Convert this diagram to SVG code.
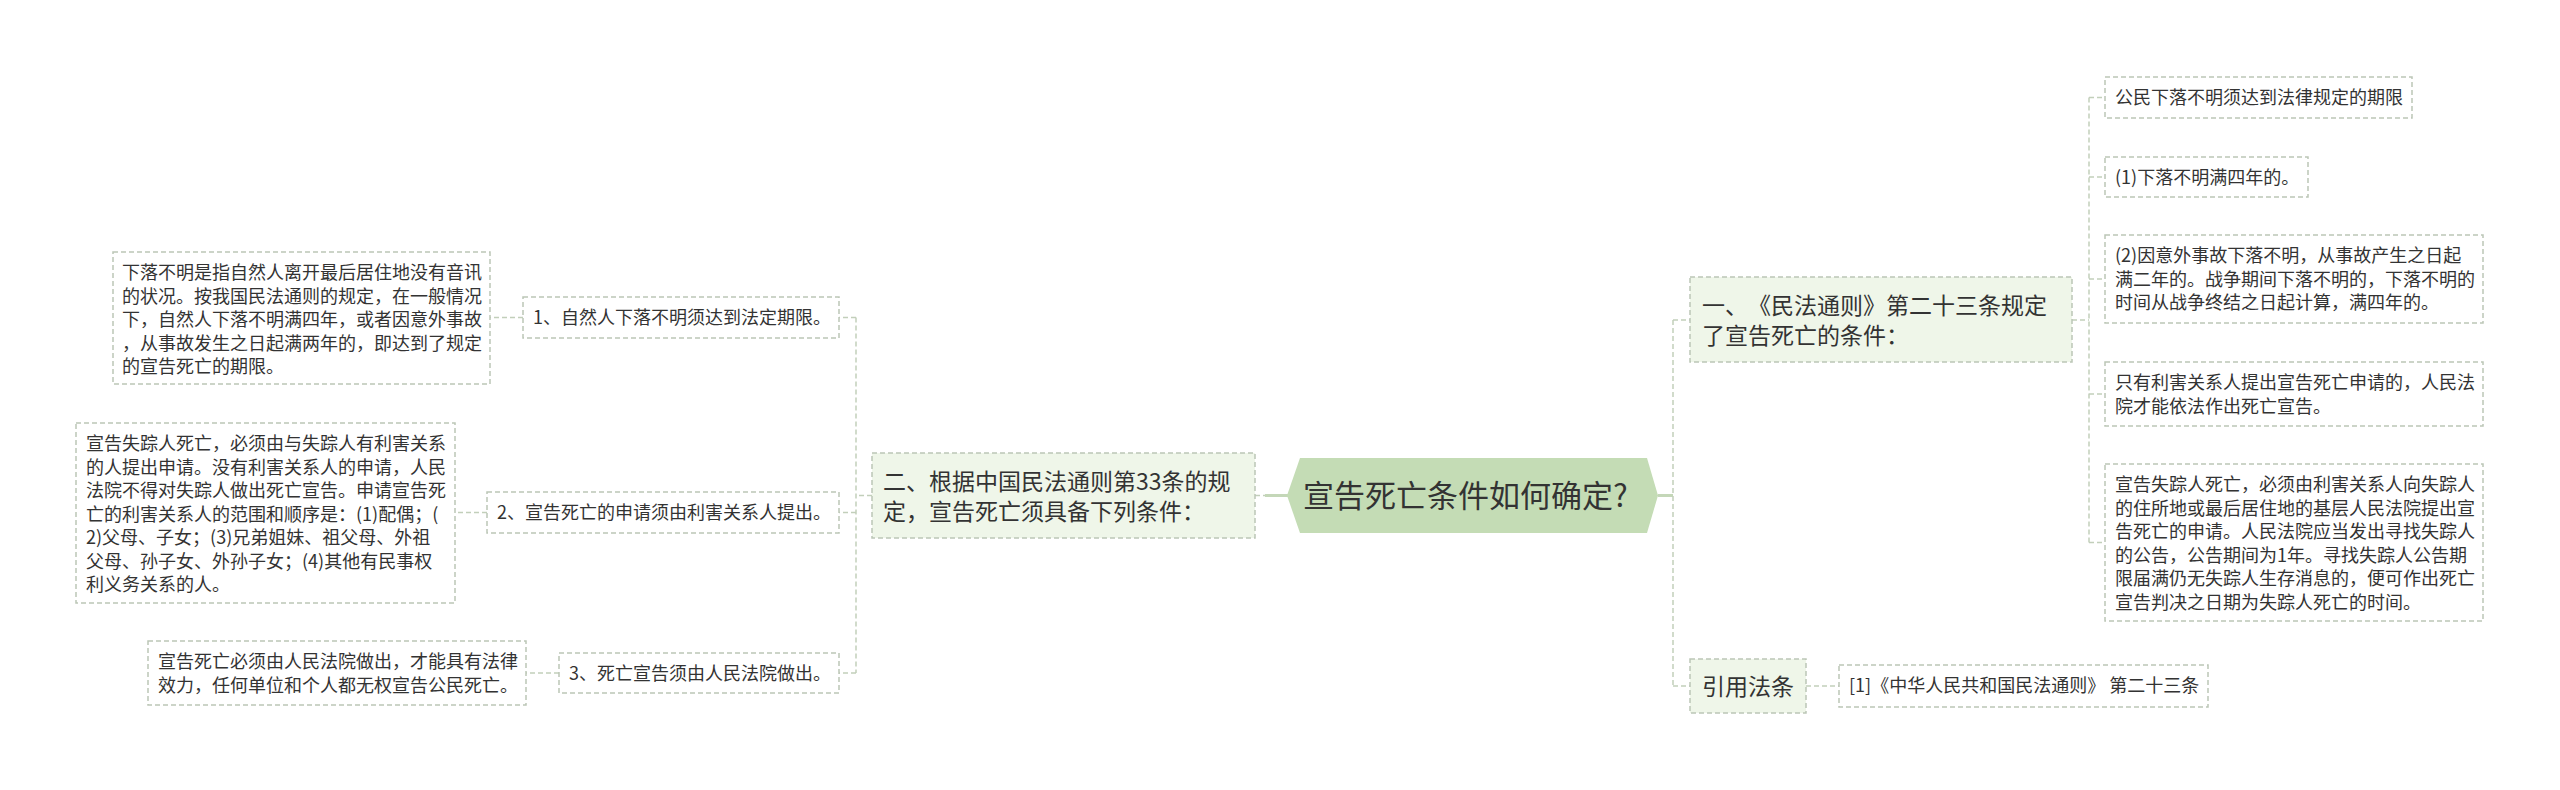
<svg xmlns="http://www.w3.org/2000/svg" width="2560" height="790" viewBox="0 0 2560 790">
<style>
text{font-family:"Noto Sans CJK SC","Noto Sans",sans-serif;fill:#333;text-spacing-trim:space-all}
.t18{font-size:18px}
.t22{font-size:23px}
.t30{font-size:31px}
.box{fill:#fff;stroke:#bcc6b6;stroke-width:1.5;stroke-dasharray:5 3}
.box2{fill:#eff6e9;stroke:#bcc6b6;stroke-width:1.5;stroke-dasharray:5 3}
.root{fill:#c4dcb5}
.conn{fill:none;stroke:#c2cfba;stroke-width:1.5;stroke-dasharray:5 3}
.solid{fill:none;stroke:#c4d7b8;stroke-width:3}
</style>
<rect width="2560" height="790" fill="#fff"/>
<g id="connectors">
<path class="solid" d="M1265 495.5H1288M1658 495.5H1673"/>
<path class="conn" d="M1255 495.5H1265"/>
<path class="conn" d="M1673 320V686M1673 320H1690M1673 686H1690"/>
<path class="conn" d="M2072 320H2089M2089 97.5V542.5M2089 97.5H2105M2089 177H2105M2089 279H2105M2089 394H2105M2089 542.5H2105"/>
<path class="conn" d="M1806 686H1839"/>
<path class="conn" d="M872 495.5H856M856 317.5V673M856 317.5H839M856 512.5H839M856 673H839"/>
<path class="conn" d="M523 317.5H490M487 512.5H455M559 673H526"/>
</g>
<g id="root">
<polygon class="root" points="1287,495.5 1300,458 1647,458 1658,495.5 1647,533 1300,533"/>
<text class="t30" x="1303" y="506.5">宣告死亡条件如何确定?</text>
</g>
<g id="n-left">
<rect class="box2" x="872" y="453" width="383" height="85"/>
<text class="t22" x="883" y="490">二、根据中国民法通则第33条的规</text>
<text class="t22" x="883" y="520">定，宣告死亡须具备下列条件：</text>
</g>
<g id="n-l1">
<rect class="box" x="523" y="297" width="316" height="41"/>
<text class="t18" x="533" y="324">1、自然人下落不明须达到法定期限。</text>
</g>
<g id="n-l2">
<rect class="box" x="487" y="492" width="352" height="41"/>
<text class="t18" x="497" y="519">2、宣告死亡的申请须由利害关系人提出。</text>
</g>
<g id="n-l3">
<rect class="box" x="559" y="653" width="280" height="40"/>
<text class="t18" x="569" y="680">3、死亡宣告须由人民法院做出。</text>
</g>
<g id="n-l1a">
<rect class="box" x="113" y="252" width="377" height="132"/>
<text class="t18" x="122" y="279">下落不明是指自然人离开最后居住地没有音讯</text>
<text class="t18" x="122" y="302.5">的状况。按我国民法通则的规定，在一般情况</text>
<text class="t18" x="122" y="326">下，自然人下落不明满四年，或者因意外事故</text>
<text class="t18" x="122" y="349.5">，从事故发生之日起满两年的，即达到了规定</text>
<text class="t18" x="122" y="373">的宣告死亡的期限。</text>
</g>
<g id="n-l2a">
<rect class="box" x="76" y="423" width="379" height="180"/>
<text class="t18" x="86" y="450">宣告失踪人死亡，必须由与失踪人有利害关系</text>
<text class="t18" x="86" y="473.5">的人提出申请。没有利害关系人的申请，人民</text>
<text class="t18" x="86" y="497">法院不得对失踪人做出死亡宣告。申请宣告死</text>
<text class="t18" x="86" y="520.5">亡的利害关系人的范围和顺序是：(1)配偶；(</text>
<text class="t18" x="86" y="544">2)父母、子女；(3)兄弟姐妹、祖父母、外祖</text>
<text class="t18" x="86" y="567.5">父母、孙子女、外孙子女；(4)其他有民事权</text>
<text class="t18" x="86" y="591">利义务关系的人。</text>
</g>
<g id="n-l3a">
<rect class="box" x="148" y="641" width="378" height="64"/>
<text class="t18" x="158" y="668">宣告死亡必须由人民法院做出，才能具有法律</text>
<text class="t18" x="158" y="691.5">效力，任何单位和个人都无权宣告公民死亡。</text>
</g>
<g id="n-right">
<rect class="box2" x="1690" y="277" width="382" height="85"/>
<text class="t22" x="1702" y="314">一、《民法通则》第二十三条规定</text>
<text class="t22" x="1702" y="344">了宣告死亡的条件：</text>
</g>
<g id="n-r1">
<rect class="box" x="2105" y="77" width="307" height="41"/>
<text class="t18" x="2115" y="104">公民下落不明须达到法律规定的期限</text>
</g>
<g id="n-r2">
<rect class="box" x="2105" y="157" width="203" height="40"/>
<text class="t18" x="2115" y="184">(1)下落不明满四年的。</text>
</g>
<g id="n-r3">
<rect class="box" x="2105" y="235" width="378" height="88"/>
<text class="t18" x="2115" y="262">(2)因意外事故下落不明，从事故产生之日起</text>
<text class="t18" x="2115" y="285.5">满二年的。战争期间下落不明的，下落不明的</text>
<text class="t18" x="2115" y="309">时间从战争终结之日起计算，满四年的。</text>
</g>
<g id="n-r4">
<rect class="box" x="2105" y="362" width="378" height="64"/>
<text class="t18" x="2115" y="389">只有利害关系人提出宣告死亡申请的，人民法</text>
<text class="t18" x="2115" y="412.5">院才能依法作出死亡宣告。</text>
</g>
<g id="n-r5">
<rect class="box" x="2105" y="464" width="378" height="157"/>
<text class="t18" x="2115" y="491">宣告失踪人死亡，必须由利害关系人向失踪人</text>
<text class="t18" x="2115" y="514.5">的住所地或最后居住地的基层人民法院提出宣</text>
<text class="t18" x="2115" y="538">告死亡的申请。人民法院应当发出寻找失踪人</text>
<text class="t18" x="2115" y="561.5">的公告，公告期间为1年。寻找失踪人公告期</text>
<text class="t18" x="2115" y="585">限届满仍无失踪人生存消息的，便可作出死亡</text>
<text class="t18" x="2115" y="608.5">宣告判决之日期为失踪人死亡的时间。</text>
</g>
<g id="n-ref">
<rect class="box2" x="1690" y="659" width="116" height="54"/>
<text class="t22" x="1702" y="694.5">引用法条</text>
</g>
<g id="n-ref1">
<rect class="box" x="1839" y="665" width="369" height="42"/>
<text class="t18" x="1849" y="692">[1]《中华人民共和国民法通则》 第二十三条</text>
</g>
</svg>
